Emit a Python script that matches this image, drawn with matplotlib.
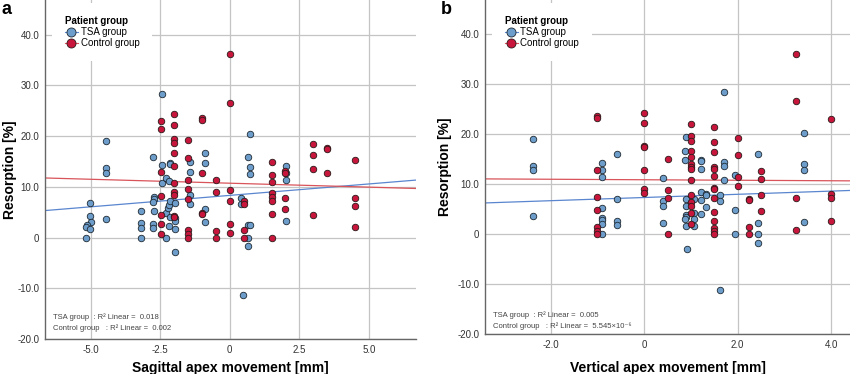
import matplotlib
matplotlib.use("Agg")
import matplotlib.pyplot as plt
import numpy as np
from matplotlib.lines import Line2D

# ---- panel a: sagittal apex movement ----
a_tsa_x = [-4.47, -4.47, -4.47, -2.75, -2.45, -2.45, -2.45, -2.15, -2.15, -2.29, -2.19,
           -1.45, -1.45, -0.89, -0.89, 0.74, 0.66, 0.74, 0.74, 2.04, 2.04, 2.04,
           -5.04, -5.04, -5.0, -5.14, -5.18, -5.04, -5.17, -4.47, -3.18, -3.18, -3.18, -3.18,
           -2.72, -2.72, -2.75, -2.72, -2.75, -2.75, -2.28, -2.28, -2.22, -2.19, -2.15, -2.15,
           -2.19, -1.98, -1.98, -1.98, -1.98, -1.98, -1.45, -1.45, -0.89, -0.89, 0.42, 0.42,
           0.48, 0.66, 0.73, 0.66, 0.66, 2.04]
a_tsa_y = [19.0, 13.6, 12.8, 15.9, 28.3, 14.2, 10.7, 14.7, 14.5, 11.8, 11.1,
           14.8, 13.0, 16.6, 14.6, 20.3, 15.9, 13.9, 12.6, 14.1, 12.8, 11.4,
           6.8, 4.3, 3.0, 2.5, 2.0, 1.6, 0.0, 3.6, 5.3, 2.8, 1.9, 0.0,
           8.0, 7.6, 6.9, 5.3, 2.7, 1.8, 0.0, 4.8, 5.9, 6.4, 7.1, 4.0,
           2.2, 6.8, 3.9, 3.3, 1.6, -2.9, 8.4, 6.6, 5.6, 3.1, 7.8, 6.6,
           -11.3, 2.4, 2.5, 0.0, -1.7, 3.3]
a_ctrl_x = [0.0, 0.0, -2.49, -2.49, -2.49, -2.0, -2.0, -2.0, -2.0, -2.0, -2.0, -2.0,
            -1.5, -1.5, -1.5, -1.0, -1.0, -1.0, -0.49, 1.51, 1.51, 1.51, 2.0, 2.0,
            3.0, 3.0, 3.0, 3.51, 3.51, 3.51, 4.5,
            -2.49, -2.49, -2.49, -2.49, -2.0, -2.0, -2.0, -2.0, -1.5, -1.5, -1.5, -1.5, -1.5,
            -1.0, -1.0, -0.49, -0.49, -0.49, 0.0, 0.0, 0.0, 0.0, 0.52, 0.52, 0.52, 0.52,
            1.51, 1.51, 1.51, 1.51, 1.51, 2.0, 2.0, 3.0, 4.5, 4.5, 4.5]
a_ctrl_y = [36.2, 26.6, 22.9, 21.4, 13.0, 24.3, 22.1, 19.5, 18.7, 16.6, 14.1, 10.8,
            19.2, 15.7, 11.3, 23.6, 23.2, 12.7, 11.4, 14.9, 12.4, 10.9, 13.2, 12.8,
            18.4, 16.3, 13.4, 17.6, 17.4, 12.7, 15.3,
            8.2, 4.4, 2.7, 0.6, 9.0, 8.4, 4.3, 4.0, 9.5, 7.5, 1.4, 0.7, 0.0,
            4.8, 4.6, 9.0, 1.2, 0.0, 9.3, 7.2, 2.7, 0.8, 7.1, 6.7, 1.4, 0.0,
            8.7, 7.9, 7.2, 4.6, 0.0, 7.8, 5.7, 4.4, 7.8, 6.3, 2.0]

# ---- panel b: vertical apex movement ----
b_tsa_x = [-2.38, -2.38, -2.38, -0.91, -0.91, -0.91, -0.58, 0.41, 0.90, 0.88, 0.88,
           1.22, 1.22, 1.22, 1.71, 1.71, 1.71, 1.71, 1.95, 2.44, 3.41, 3.41, 3.41,
           -2.38, -0.91, -0.91, -0.91, -0.91, -0.91, -0.58, -0.58, -0.58, 0.41, 0.41, 0.41,
           0.90, 0.90, 0.90, 0.90, 0.88, 0.90, 0.91, 1.06, 1.06, 1.06, 1.06, 1.22, 1.22, 1.22,
           1.32, 1.32, 1.32, 1.62, 1.62, 1.62, 1.95, 1.95, 2.44, 2.44, 2.44, 3.41]
b_tsa_y = [19.1, 13.7, 12.9, 14.3, 12.9, 11.5, 16.0, 11.2, 19.5, 16.7, 14.8,
           14.8, 14.6, 13.1, 28.4, 14.4, 13.7, 10.8, 11.9, 16.0, 20.3, 14.0, 12.8,
           3.7, 5.3, 3.3, 2.8, 2.1, 0.0, 7.0, 2.7, 1.9, 6.7, 5.7, 2.3,
           7.0, 5.7, 3.9, 3.5, 3.1, 1.6, -2.9, 7.0, 4.3, 3.0, 1.7, 8.5, 6.9, 4.1,
           8.1, 7.8, 5.5, 7.9, 6.7, -11.2, 4.9, 0.0, 2.3, 0.0, -1.7, 2.4]
b_ctrl_x = [-1.0, -1.0, -1.0, 0.0, 0.0, 0.0, 0.0, 0.0, 0.5, 1.0, 1.0, 1.0, 1.0, 1.0, 1.0,
            1.0, 1.0, 1.0, 1.5, 1.5, 1.5, 1.5, 1.5, 1.5, 2.0, 2.0, 2.0, 2.0, 2.5, 2.5,
            3.25, 3.25, 4.0,
            -1.0, -1.0, -1.0, -1.0, -1.0, 0.0, 0.0, 0.5, 0.5, 0.5, 1.0, 1.0, 1.0, 1.0, 1.0,
            1.5, 1.5, 1.5, 1.5, 1.5, 1.5, 1.5, 1.5, 2.25, 2.25, 2.25, 2.25, 2.5, 2.5,
            3.25, 3.25, 4.0, 4.0, 4.0]
b_ctrl_y = [23.6, 23.3, 12.8, 24.3, 22.2, 17.7, 17.5, 12.8, 15.0, 22.0, 19.6, 18.7, 16.7, 15.4, 14.1,
            13.4, 13.1, 10.9, 21.4, 18.5, 16.4, 13.5, 13.1, 11.6, 19.3, 15.8, 11.5, 9.7, 12.6, 11.0,
            36.1, 26.6, 23.0,
            7.5, 4.9, 1.4, 0.6, 0.0, 9.1, 8.3, 8.8, 7.3, 0.0, 7.9, 6.4, 5.7, 4.2, 2.1,
            9.3, 9.1, 7.2, 4.5, 2.7, 1.3, 0.6, 0.0, 7.1, 6.8, 1.4, 0.0, 7.9, 4.7,
            7.3, 0.8, 8.1, 7.3, 2.7]

# fit lines: (intercept, slope)
fit_a = {"TSA": (8.3, 0.45), "Control": (10.7, -0.155)}
fit_b = {"TSA": (7.3, 0.32), "Control": (10.85, -0.05)}
r2_a = ["0.018", "0.002"]
r2_b = ["0.005", "5.545×10⁻⁶"]

y_ticks = [-20, -10, 0, 10, 20, 30, 40]
y_labels = ["-20.0", "-10.0", "0", "10.0", "20.0", "30.0", "40.0"]
a_xticks = [-5.0, -2.5, 0, 2.5, 5.0]
a_xlabels = ["-5.0", "-2.5", "0", "2.5", "5.0"]
b_xticks = [-2.0, 0, 2.0, 4.0]
b_xlabels = ["-2.0", "0", "2.0", "4.0"]

tsa_fill = "#6d9dcb"
ctrl_fill = "#c8153c"
tsa_line = "#5a86cf"
ctrl_line = "#d9545a"

plt.rcParams["font.family"] = ["Liberation Sans", "DejaVu Sans"]

fig = plt.figure(figsize=(8.5, 3.74), dpi=100)
ax_a = fig.add_axes([45 / 850, 1 - 339 / 374, 371 / 850, 339 / 374])
ax_b = fig.add_axes([485 / 850, 1 - 334 / 374, 365 / 850, 334 / 374])


def draw_panel(ax, tx, ty, cx, cy, fits, r2, xlim, xticks, xlabels, xlabel,
               r2_y, xlab_y, ylab_x):
    ax.set_xlim(*xlim)
    ax.set_ylim(-20, 46.8)
    ax.set_xticks(xticks)
    ax.set_xticklabels(xlabels)
    ax.set_yticks(y_ticks)
    ax.set_yticklabels(y_labels)
    ax.tick_params(length=0, labelsize=7, colors="#333333", pad=4)
    ax.grid(True, color="#c4c4c4", lw=0.9)
    ax.set_axisbelow(True)
    for s in ["top", "right"]:
        ax.spines[s].set_visible(False)
    for s in ["left", "bottom"]:
        ax.spines[s].set_color("#666666")
        ax.spines[s].set_linewidth(1.0)

    xs = np.array(xlim)
    ax.plot(xs, fits["TSA"][0] + fits["TSA"][1] * xs, color=tsa_line, lw=0.9, zorder=2)
    ax.plot(xs, fits["Control"][0] + fits["Control"][1] * xs, color=ctrl_line, lw=0.9, zorder=2)

    ax.scatter(tx, ty, s=22, c=tsa_fill, edgecolors="#1f2a33", linewidths=0.6, zorder=3)
    ax.scatter(cx, cy, s=22, c=ctrl_fill, edgecolors="#2a1a1a", linewidths=0.6, zorder=3)

    ax.set_xlabel(xlabel, fontsize=10, fontweight="bold")
    ax.xaxis.set_label_coords(0.5, xlab_y)
    ax.set_ylabel("Resorption [%]", fontsize=10, fontweight="bold")
    ax.yaxis.set_label_coords(ylab_x, 0.5)

    handles = [
        Line2D([0], [0], color=tsa_line, lw=0.8, marker="o", markersize=6.5,
               markerfacecolor=tsa_fill, markeredgecolor="#1f2a33", markeredgewidth=0.6),
        Line2D([0], [0], color=ctrl_line, lw=0.8, marker="o", markersize=6.5,
               markerfacecolor=ctrl_fill, markeredgecolor="#2a1a1a", markeredgewidth=0.6),
    ]
    leg = ax.legend(handles, ["TSA group", "Control group"], loc="upper left",
                    bbox_to_anchor=(0.02, 0.99), title="Patient group", fontsize=7,
                    title_fontproperties={"weight": "bold", "size": 7},
                    frameon=True, fancybox=False, framealpha=1, edgecolor="none",
                    handlelength=1.3, handletextpad=0.3, labelspacing=0.1,
                    borderpad=1.3, borderaxespad=0)
    leg._legend_box.align = "left"

    ax.text(0.022, r2_y, "TSA group  : R² Linear =  " + r2[0], transform=ax.transAxes,
            fontsize=5.5, color="#444444")
    ax.text(0.022, r2_y - 0.032, "Control group   : R² Linear =  " + r2[1],
            transform=ax.transAxes, fontsize=5.5, color="#444444")


draw_panel(ax_a, a_tsa_x, a_tsa_y, a_ctrl_x, a_ctrl_y, fit_a, r2_a, (-6.65, 6.7),
           a_xticks, a_xlabels, "Sagittal apex movement [mm]", 0.058, -0.066, -0.075)
draw_panel(ax_b, b_tsa_x, b_tsa_y, b_ctrl_x, b_ctrl_y, fit_b, r2_b, (-3.4, 4.4),
           b_xticks, b_xlabels, "Vertical apex movement [mm]", 0.05, -0.082, -0.09)

fig.text(2 / 850, 1 - 14 / 374, "a", fontsize=13, fontweight="bold")
fig.text(441 / 850, 1 - 14 / 374, "b", fontsize=13, fontweight="bold")

fig.savefig("out.png", dpi=100)
